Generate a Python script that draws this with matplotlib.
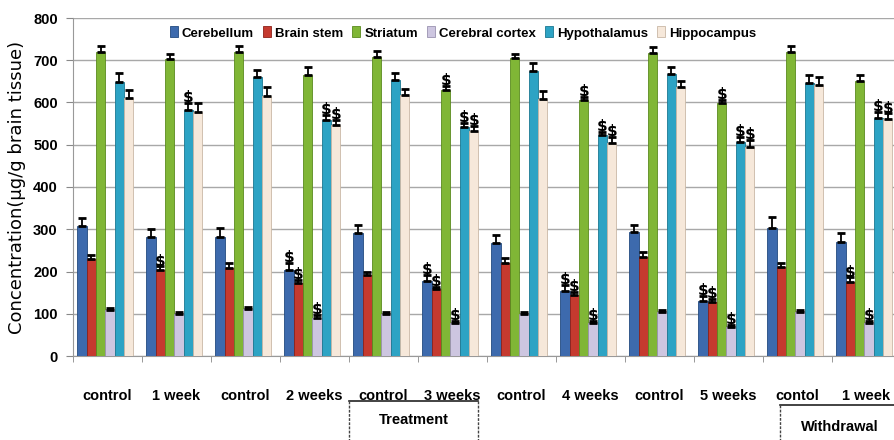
import matplotlib
matplotlib.use("Agg")
import matplotlib.pyplot as plt
from matplotlib.lines import Line2D
import numpy as np

# Group labels along the x axis
groups = ["control", "1 week", "control", "2 weeks", "control", "3 weeks",
          "control", "4 weeks", "control", "5 weeks", "contol", "1 week"]

regions = ["Cerebellum", "Brain stem", "Striatum", "Cerebral cortex",
           "Hypothalamus", "Hippocampus"]

# Mean concentration (µg/g brain tissue) per region and group
cerebellum = [308, 282, 282, 204, 292, 178, 267, 155, 294, 130, 302, 271]
brain_stem = [230, 204, 209, 172, 192, 158, 221, 144, 235, 127, 210, 176]
striatum = [720, 703, 720, 665, 708, 630, 705, 606, 716, 598, 720, 652]
cerebral_cortex = [109, 99, 111, 90, 99, 78, 99, 79, 105, 69, 105, 77]
hypothalamus = [649, 582, 661, 559, 653, 541, 675, 523, 667, 507, 647, 563]
hippocampus = [610, 578, 615, 547, 618, 533, 608, 503, 637, 494, 641, 560]

# Standard error per region and group
cerebellum_err = [18, 18, 21, 16, 18, 14, 19, 13, 16, 12, 28, 19]
brain_stem_err = [9, 8, 10, 8, 6, 6, 10, 8, 10, 7, 11, 10]
striatum_err = [14, 12, 14, 18, 15, 9, 10, 8, 15, 8, 14, 13]
cerebral_cortex_err = [4, 4, 4, 8, 4, 6, 4, 4, 4, 5, 4, 7]
hypothalamus_err = [20, 17, 16, 11, 17, 11, 18, 8, 16, 12, 18, 15]
hippocampus_err = [20, 21, 22, 12, 13, 11, 20, 16, 15, 17, 19, 14]

# Groups significantly different from control, per region
cerebellum_sig = [3, 5, 7, 9]
brain_stem_sig = [1, 3, 5, 7, 9, 11]
striatum_sig = [5, 7, 9]
cerebral_cortex_sig = [3, 5, 7, 9, 11]
hypothalamus_sig = [1, 3, 5, 7, 9, 11]
hippocampus_sig = [3, 5, 7, 9, 11]

colors = ["#3d6aad", "#c53a2f", "#80b636", "#cdc6e0", "#2da3c4", "#f6e8da"]
edges = ["#234a80", "#8e2119", "#5a8a1e", "#9a92b0", "#1a7891", "#c9b8a6"]

series = [cerebellum, brain_stem, striatum, cerebral_cortex, hypothalamus, hippocampus]
errors = [cerebellum_err, brain_stem_err, striatum_err, cerebral_cortex_err,
          hypothalamus_err, hippocampus_err]
sigs = [cerebellum_sig, brain_stem_sig, striatum_sig, cerebral_cortex_sig,
        hypothalamus_sig, hippocampus_sig]

label_font = ["Liberation Sans", "DejaVu Sans"]

W, H = 894, 440
fig = plt.figure(figsize=(W / 100, H / 100), dpi=100)
ax = fig.add_axes([73 / W, 1 - 356 / H, 828 / W, 338 / H])

x = np.arange(len(groups))
bw = 0.135
for k, (vals, errs, sig) in enumerate(zip(series, errors, sigs)):
    pos = x + (k - 2.5) * bw - 0.03
    ax.bar(pos, vals, width=bw, color=colors[k], edgecolor=edges[k],
           linewidth=0.6, label=regions[k], zorder=3)
    ax.errorbar(pos, vals, yerr=[np.zeros(len(errs)), errs], fmt="none",
                ecolor="black", elinewidth=1.3, capsize=3, capthick=2, zorder=4)
    for g in sig:
        ax.text(pos[g], vals[g] + errs[g] - 5, r"\$", ha="center", va="bottom",
                fontsize=11, fontweight="bold", color="black", zorder=5,
                family=["DejaVu Sans"])

ax.set_xlim(-0.5, len(groups) - 0.5)
ax.set_ylim(0, 800)
ax.set_yticks(np.arange(0, 801, 100))
ax.yaxis.grid(True, color="#a8a8a8", linewidth=1.0, zorder=0)
ax.set_axisbelow(True)

ax.set_xticks(x)
ax.set_xticklabels(groups, fontsize=10.5, fontweight="bold", family=label_font)
ax.tick_params(axis="x", length=0, pad=24)
ax.set_xticks(np.arange(-0.5, len(groups) + 0.5, 1), minor=True)
ax.tick_params(axis="x", which="minor", length=4, color="#888888")
ax.tick_params(axis="y", length=5, color="#888888", pad=6)
for lab in ax.get_yticklabels():
    lab.set_fontsize(10.5)
    lab.set_fontweight("bold")
    lab.set_family(label_font)

for side in ["top", "right"]:
    ax.spines[side].set_visible(False)
ax.spines["left"].set_color("#999999")
ax.spines["bottom"].set_color("#999999")

ax.set_ylabel("Concentration(µg/g brain tissue)", fontsize=13, labelpad=5,
              family=["DejaVu Sans"])

fig.legend(loc="center", bbox_to_anchor=(463 / W, 1 - 33 / H), ncol=6,
           frameon=False, handlelength=0.6, handleheight=0.9,
           handletextpad=0.3, columnspacing=0.7,
           prop={"family": label_font, "weight": "bold", "size": 9.5})

# Bracket boxes naming the treatment and withdrawal phases
def phase_box(x0, x1, ytop, label, xtext, ytext):
    fx0, fx1 = x0 / W, x1 / W
    fy = 1 - ytop / H
    fig.add_artist(Line2D([fx0, fx1], [fy, fy], transform=fig.transFigure,
                          color="#222222", linewidth=1.2))
    for fx in (fx0, fx1):
        fig.add_artist(Line2D([fx, fx], [fy, -0.05], transform=fig.transFigure,
                              color="#444444", linewidth=1.0, linestyle=(0, (2, 1))))
    fig.text(xtext / W, 1 - ytext / H, label, ha="center", va="center",
             fontsize=10.5, fontweight="bold", family=label_font)

phase_box(349, 478, 401, "Treatment", 414, 420)
phase_box(780, 1010, 405, "Withdrawal", 840, 427)

fig.savefig("out.png", dpi=100)
